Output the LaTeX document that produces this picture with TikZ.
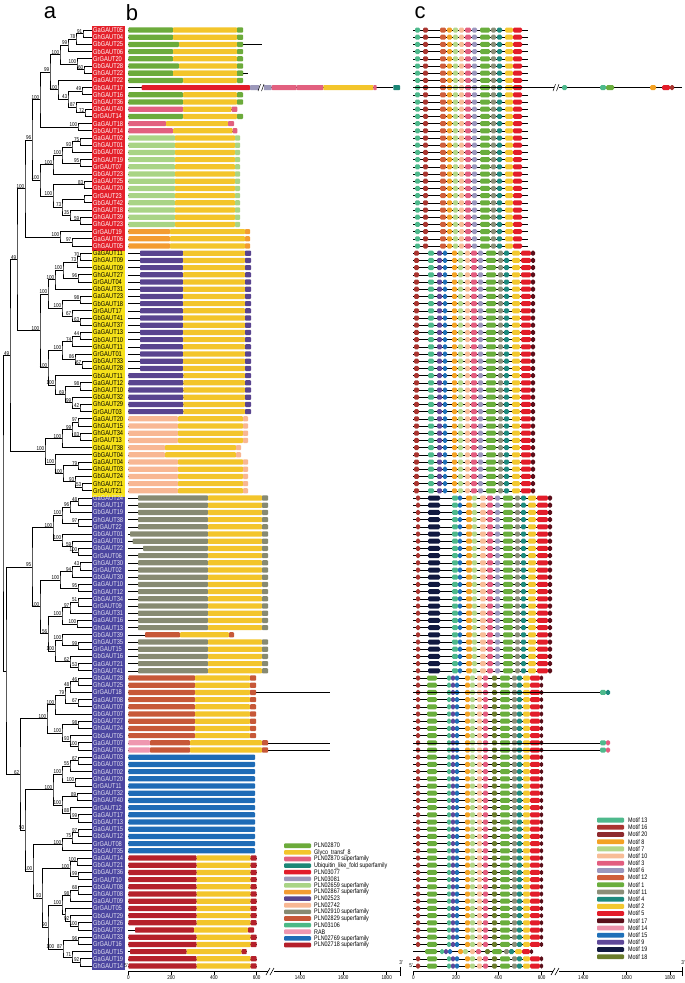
\documentclass[tikz,border=0pt]{standalone}
\usepackage{fontspec}
\setmainfont{Liberation Sans}
\newfontfamily\narrowf[FakeStretch=0.82]{Liberation Sans}
\usetikzlibrary{calc}
% label boxes
\definecolor{cRed}{HTML}{E4202A}
\definecolor{cYel}{HTML}{F6E11A}
\definecolor{cBlu}{HTML}{4B45A0}
% domains (b)
\definecolor{dA}{HTML}{6CAB3B}
\definecolor{dGly}{HTML}{F3C52B}
\definecolor{dPs}{HTML}{E2607F}
\definecolor{dUbq}{HTML}{1C8676}
\definecolor{dR}{HTML}{E21D2A}
\definecolor{dLav}{HTML}{9C98BA}
\definecolor{dLG}{HTML}{A9D485}
\definecolor{dOr}{HTML}{F39C32}
\definecolor{dPur}{HTML}{59448F}
\definecolor{dPea}{HTML}{F8B793}
\definecolor{dGr}{HTML}{878A72}
\definecolor{dBr}{HTML}{C75838}
\definecolor{dMint}{HTML}{4CB985}
\definecolor{dRAB}{HTML}{EF97B0}
\definecolor{dBl}{HTML}{1E6BB6}
\definecolor{dDR}{HTML}{B5202B}
% motifs (c)
\definecolor{m13}{HTML}{4EB98C}
\definecolor{m16}{HTML}{A93530}
\definecolor{m20}{HTML}{8E2A2E}
\definecolor{m8}{HTML}{F4A224}
\definecolor{m7}{HTML}{B3D78A}
\definecolor{m10}{HTML}{F8BD97}
\definecolor{m3}{HTML}{E35D7F}
\definecolor{m6}{HTML}{9B97BE}
\definecolor{m12}{HTML}{CF5E3B}
\definecolor{m1}{HTML}{6AAE3D}
\definecolor{m11}{HTML}{8C8E78}
\definecolor{m4}{HTML}{1E8A7E}
\definecolor{m2}{HTML}{F3C830}
\definecolor{m5}{HTML}{E31D2A}
\definecolor{m17}{HTML}{5B0F1A}
\definecolor{m14}{HTML}{EE91AB}
\definecolor{m15}{HTML}{1F70B8}
\definecolor{m9}{HTML}{5E4899}
\definecolor{m19}{HTML}{111940}
\definecolor{m18}{HTML}{6A7C2C}

\newcommand\RY[1]{(30+(#1-1)*7.2)}
\newcommand\lblf{\narrowf\fontsize{7}{7}\selectfont}
\newcommand\bsf{\narrowf\fontsize{5.6}{5.6}\selectfont}
\newcommand\axf{\narrowf\fontsize{5.6}{5.6}\selectfont}
\newcommand\lgf{\narrowf\fontsize{6.6}{6.6}\selectfont}

% clade: name, x, childA, childB, bootstrap
\newcommand\cl[5]{%
  \path let \p1=(#3), \p2=(#4) in coordinate (#1) at ({#2pt},{0.5*(\y1+\y2)});
  \draw[tr] (#3) -| (#1) |- (#4);
  \node[bs] (bs#1) at (#1) {#5};
}
% panel b row: row, line end, segments
\newcommand\brow[3]{%
  \pgfmathsetmacro\yy{\RY{#1}}
  \draw[ln] (128.3,\yy) -- (#2,\yy);
  \edef\seglist{#3}
  \foreach \a/\b/\c in \seglist {\fill[\c,rounded corners=0.8pt] (\a,{\yy-2.6}) rectangle (\b,{\yy+2.6});}
}
% panel c row
\newcommand\crow[3]{%
  \pgfmathsetmacro\yy{\RY{#1}}
  \draw[ln] (413.3,\yy) -- (#2,\yy);
  \edef\seglist{#3}
  \foreach \a/\b/\c in \seglist {\fill[\c,rounded corners=1.4pt] (\a,{\yy-2.5}) rectangle (\b,{\yy+2.5});}
}
% break mark on a row
\newcommand\rbreak[2]{%
  \pgfmathsetmacro\yy{\RY{#1}}
  \fill[white] ({#2-2.5},{\yy-3.5}) rectangle ({#2+2.5},{\yy+3.5});
  \draw[line width=0.5pt] ({#2-3},{\yy+3.5}) -- ({#2-0.5},{\yy-3.5}) ({#2+0.5},{\yy+3.5}) -- ({#2+3},{\yy-3.5});
}
\def\bA{128.3/173/dA,173/237/dGly,237/243/dA}
\def\bAl{128.3/179/dA,179/237/dGly,237/243/dA}
\def\bAL{128.3/183/dA,183/237/dGly,237/243/dA}
\def\bLG{128.3/175/dLG,175/235/dGly,235/240/dLG}
\def\bOr{128.3/170/dOr,170/245/dGly,245/250/dOr}
\def\bPu{140/183/dPur,183/245/dGly,245/251/dPur}
\def\bPuL{128.3/183.3/dPur,183.3/245/dGly,245/251/dPur}
\def\bPe{128.3/178/dPea,178/243/dGly,243/248/dPea}
\def\bPeS{128.3/165/dPea,165/236/dGly,236/241/dPea}
\def\bGr{138/208/dGr,208/262/dGly,262/268/dGr}
\def\bBr{128.3/195/dBr,195/250/dGly,250/256/dBr}
\def\bBl{128.3/255/dBl}
\def\bDR{128.3/196.7/dDR,196.7/250.7/dGly,250.7/256.7/dDR}

\def\cR{415/420/m13,423/428/m16,440/446/m12,447/452/m8,453/458/m7,459/464/m10,465/471/m3,472/477/m6,480/490/m1,491/496/m11,497/502/m4,505/513/m2,513/522/m5}
\def\cY{414/419/m16,428/434/m13,437/442/m9,443/447/m15,452/457/m8,458/463/m7,465/470/m10,471/477/m3,478/483/m6,486/496/m1,498/503/m11,504/509/m4,512/520/m2,521/531/m5,531/535/m17}
\def\cB{416/420/m16,428/440/m19,452/458/m13,458/462/m15,466/472/m8,472/477/m7,480/486/m10,487/493/m3,495/500/m6,503/513/m1,515/520/m11,521/526/m4,528/536/m2,537/548/m5,548/552/m17}
\def\cG{416/420/m16,427/437/m1,447/451/m13,451/455/m9,455/459/m15,465/470/m8,470/475/m7,477/482/m10,483/488/m3,492/497/m18,500/510/m1,512/517/m11,517/522/m4,523/530/m2,530/540/m5,540/543/m17}
\def\cGs{425/437/m1,440/444/m13,444/448/m9,448/452/m15,458/463/m8,463/468/m7,470/475/m10,476/481/m3,485/490/m18,492/502/m1,504/509/m11,509/514/m4,515/522/m2,522/530/m5,530/533/m17}

\tikzset{
  lab/.style={font=\lblf, inner sep=0pt, anchor=west},
  bs/.style={font=\bsf, inner sep=0.2pt, anchor=south east, xshift=-0.4pt},
  tr/.style={line width=0.75pt, line cap=rect},
  ln/.style={line width=0.6pt},
  axl/.style={line width=0.7pt},
  tick/.style={font=\axf, anchor=north, inner sep=0.5pt},
  lgt/.style={font=\lgf, anchor=west, inner sep=0pt},
  panel/.style={font=\fontsize{22}{22}\selectfont, inner sep=0pt},
}
\begin{document}
\begin{tikzpicture}[x=1pt,y={(0pt,-1pt)}]
\fill[white] (0,0) rectangle (685,983);
\useasboundingbox (0,0) rectangle (685,983);

\node[panel] (pa) at (50,13) {a};
\node[panel] (pb) at (132,13) {b};
\node[panel] (pc) at (420,13) {c};

% label boxes
\fill[cRed] (92,26) rectangle (124.5,250.6);
\fill[cYel] (92,250.6) rectangle (124.5,497.4);
\fill[cBlu] (92,497.4) rectangle (124.5,970);

\foreach \i/\t in {1/GaGAUT05,2/GhGAUT04,3/GbGAUT25,4/GbGAUT06,5/GrGAUT20,6/GbGAUT28,7/GhGAUT22,8/GaGAUT22,9/GbGAUT17,10/GhGAUT16,11/GhGAUT36,12/GbGAUT40,13/GrGAUT14,14/GaGAUT18,15/GbGAUT14,16/GaGAUT02,17/GhGAUT01,18/GbGAUT02,19/GhGAUT19,20/GrGAUT07,21/GbGAUT23,22/GaGAUT25,23/GbGAUT20,24/GrGAUT23,25/GbGAUT42,26/GhGAUT18,27/GhGAUT39,28/GhGAUT23,29/GrGAUT19,30/GaGAUT06,31/GhGAUT05}
  {\node[lab,text=white] (T\i) at (93,{\RY{\i}}) {\t};
   \coordinate (L\i) at (92,{\RY{\i}});}
\foreach \i/\t in {32/GaGAUT11,33/GhGAUT09,34/GbGAUT09,35/GhGAUT27,36/GrGAUT04,37/GbGAUT31,38/GaGAUT23,39/GbGAUT18,40/GrGAUT17,41/GbGAUT41,42/GhGAUT37,43/GaGAUT13,44/GbGAUT10,45/GhGAUT11,46/GrGAUT01,47/GbGAUT33,48/GhGAUT28,49/GbGAUT11,50/GaGAUT12,51/GhGAUT10,52/GbGAUT32,53/GhGAUT29,54/GrGAUT03,55/GaGAUT20,56/GhGAUT15,57/GhGAUT34,58/GrGAUT13,59/GbGAUT38,60/GbGAUT04,61/GaGAUT04,62/GhGAUT03,63/GbGAUT24,64/GhGAUT21,65/GrGAUT21}
  {\node[lab,text=black] (T\i) at (93,{\RY{\i}}) {\t};
   \coordinate (L\i) at (92,{\RY{\i}});}
\foreach \i/\t in {66/GaGAUT24,67/GhGAUT17,68/GbGAUT19,69/GhGAUT38,70/GrGAUT22,71/GbGAUT01,72/GaGAUT01,73/GbGAUT22,74/GrGAUT06,75/GhGAUT30,76/GrGAUT02,77/GbGAUT30,78/GaGAUT10,79/GhGAUT12,80/GbGAUT34,81/GrGAUT09,82/GhGAUT31,83/GaGAUT16,84/GhGAUT13,85/GbGAUT39,86/GhGAUT35,87/GrGAUT15,88/GbGAUT16,89/GaGAUT21,90/GhGAUT41,91/GbGAUT28,92/GhGAUT25,93/GrGAUT18,94/GaGAUT08,95/GhGAUT07,96/GbGAUT07,97/GbGAUT27,98/GhGAUT24,99/GbGAUT05,100/GaGAUT07,101/GhGAUT06,102/GaGAUT03,103/GbGAUT03,104/GhGAUT02,105/GhGAUT20,106/GrGAUT11,107/GhGAUT32,108/GhGAUT40,109/GrGAUT12,110/GaGAUT17,111/GbGAUT13,112/GaGAUT15,113/GbGAUT12,114/GrGAUT08,115/GbGAUT35,116/GaGAUT14,117/GbGAUT21,118/GbGAUT36,119/GrGAUT10,120/GbGAUT08,121/GhGAUT08,122/GaGAUT09,123/GrGAUT05,124/GbGAUT29,125/GbGAUT26,126/GbGAUT37,127/GhGAUT33,128/GrGAUT16,129/GbGAUT15,130/GaGAUT19,131/GhGAUT14}
  {\node[lab,text=white!85!cBlu] (T\i) at (93,{\RY{\i}}) {\t};
   \coordinate (L\i) at (92,{\RY{\i}});}

% ---------- tree ----------
\cl{a1}{83}{L1}{L2}{91}
\cl{a2}{76}{a1}{L3}{78}
\cl{a3}{68}{a2}{L4}{99}
\cl{a4}{84}{L6}{L7}{60}
\cl{a5}{77}{L5}{a4}{100}
\cl{a6}{60}{a3}{a5}{100}
\cl{a7}{82}{L9}{L10}{49}
\cl{a8}{85}{L12}{L13}{72}
\cl{a9}{76}{L11}{a8}{87}
\cl{a10}{68}{a7}{a9}{43}
\cl{a11}{58}{L8}{a10}{100}
\cl{a12}{50}{a6}{a11}{99}
\cl{a13}{78}{L14}{L15}{100}
\cl{a14}{40}{a12}{a13}{100}
\cl{a15}{80}{L16}{L17}{75}
\cl{a16}{72}{a15}{L18}{93}
\cl{a17}{80}{L19}{L20}{95}
\cl{a18}{62}{a16}{a17}{100}
\cl{a19}{53}{a18}{L21}{100}
\cl{a20}{84}{L22}{L23}{83}
\cl{a21}{84}{L24}{L25}{}
\cl{a22}{80}{L27}{L28}{59}
\cl{a23}{70}{L26}{a22}{35}
\cl{a24}{62}{a21}{a23}{73}
\cl{a25}{53}{a20}{a24}{100}
\cl{a26}{40}{a19}{a25}{100}
\cl{a27}{32}{a14}{a26}{96}
\cl{a28}{72}{L30}{L31}{97}
\cl{a29}{60}{L29}{a28}{100}
\cl{a30}{25}{a27}{a29}{100}
\cl{b1}{80}{L32}{L33}{70}
\cl{b2}{77}{b1}{L34}{73}
\cl{b3}{78}{L35}{L36}{96}
\cl{b4}{63}{b2}{b3}{100}
\cl{b5}{55}{b4}{L37}{100}
\cl{b6}{80}{L38}{L39}{98}
\cl{b7}{80}{L41}{L42}{63}
\cl{b8}{72}{L40}{b7}{67}
\cl{b9}{62}{b6}{b8}{100}
\cl{b10}{48}{b5}{b9}{100}
\cl{b11}{80}{L43}{L44}{44}
\cl{b12}{72}{b11}{L45}{74}
\cl{b13}{82}{L47}{L48}{67}
\cl{b14}{75}{L46}{b13}{86}
\cl{b15}{62}{b12}{b14}{100}
\cl{b16}{80}{L50}{L51}{98}
\cl{b17}{80}{L53}{L54}{42}
\cl{b18}{72}{L52}{b17}{99}
\cl{b19}{65}{b16}{b18}{69}
\cl{b20}{55}{L49}{b19}{100}
\cl{b21}{48}{b15}{b20}{100}
\cl{b22}{40}{b10}{b21}{100}
\cl{b23}{78}{L55}{L56}{97}
\cl{b24}{80}{L57}{L58}{83}
\cl{b25}{72}{b23}{b24}{99}
\cl{b26}{62}{b25}{L59}{100}
\cl{b27}{78}{L61}{L62}{79}
\cl{b28}{82}{L64}{L65}{53}
\cl{b29}{75}{L63}{b28}{93}
\cl{b30}{63}{b27}{b29}{100}
\cl{b31}{55}{L60}{b30}{100}
\cl{b32}{45}{b26}{b31}{100}
\cl{r1}{17}{a30}{b22}{49}
\cl{r2}{10}{r1}{b32}{49}
\cl{c1}{78}{L66}{L67}{48}
\cl{c2}{70}{c1}{L68}{96}
\cl{c3}{78}{L69}{L70}{97}
\cl{c4}{62}{c2}{c3}{100}
\cl{c5}{78}{L73}{L74}{100}
\cl{c6}{72}{L72}{c5}{59}
\cl{c7}{62}{L71}{c6}{100}
\cl{c8}{53}{c4}{c7}{100}
\cl{c9}{80}{L75}{L76}{43}
\cl{c10}{72}{c9}{L77}{94}
\cl{c11}{78}{L78}{L79}{95}
\cl{c12}{60}{c10}{c11}{100}
\cl{c13}{78}{L80}{L81}{51}
\cl{c14}{70}{c13}{L82}{97}
\cl{c15}{77}{L83}{L84}{100}
\cl{c16}{62}{c14}{c15}{100}
\cl{c17}{78}{L86}{L87}{99}
\cl{c18}{62}{L85}{c17}{100}
\cl{c19}{78}{L89}{L90}{53}
\cl{c20}{70}{L88}{c19}{62}
\cl{c21}{55}{c18}{c20}{100}
\cl{c22}{48}{c16}{c21}{56}
\cl{c23}{40}{c12}{c22}{100}
\cl{c24}{32}{c8}{c23}{95}
\cl{c25}{78}{L91}{L92}{46}
\cl{c26}{70}{c25}{L93}{48}
\cl{c27}{78}{L94}{L95}{67}
\cl{c28}{65}{c26}{c27}{79}
\cl{c29}{55}{c28}{L96}{100}
\cl{c30}{78}{L97}{L98}{98}
\cl{c31}{78}{L100}{L101}{100}
\cl{c32}{70}{L99}{c31}{93}
\cl{c33}{62}{c30}{c32}{100}
\cl{c34}{47}{c29}{c33}{100}
\cl{c35}{78}{L102}{L103}{67}
\cl{c36}{70}{c35}{L104}{55}
\cl{c37}{75}{L105}{L106}{100}
\cl{c38}{62}{c36}{c37}{100}
\cl{c39}{77}{L107}{L108}{89}
\cl{c40}{78}{L110}{L111}{99}
\cl{c41}{70}{L109}{c40}{88}
\cl{c42}{62}{c39}{c41}{100}
\cl{c43}{53}{c38}{c42}{100}
\cl{c44}{78}{L112}{L113}{97}
\cl{c45}{72}{c44}{L114}{75}
\cl{c46}{62}{c45}{L115}{100}
\cl{c47}{77}{L116}{L117}{100}
\cl{c48}{78}{L118}{L119}{99}
\cl{c49}{70}{c47}{c48}{100}
\cl{c50}{78}{L120}{L121}{68}
\cl{c51}{70}{c50}{L122}{98}
\cl{c52}{78}{L125}{L126}{100}
\cl{c53}{70}{L124}{c52}{92}
\cl{c54}{65}{L123}{c53}{}
\cl{c55}{62}{c51}{c54}{100}
\cl{c56}{78}{L127}{L128}{96}
\cl{c57a}{80}{L130}{L131}{92}
\cl{c57}{72}{L129}{c57a}{71}
\cl{c58}{63}{c56}{c57}{87}
\cl{c58b}{55}{c58}{c58}{100}
\cl{c59}{48}{c55}{c58b}{90}
\cl{c60}{42}{c49}{c59}{93}
\cl{c61}{33}{c46}{c60}{100}
\cl{c62}{25}{c43}{c61}{50}
\cl{c63}{20}{c34}{c62}{62}
\cl{c64}{6}{c24}{c63}{}
\cl{root}{3}{r2}{c64}{}

% ---------- panel b ----------
\foreach \i in {1,2,4,5,7} {\brow{\i}{243}{\bA}}
\brow{3}{262}{\bAl}
\brow{6}{243}{\bAl}
\brow{7}{248}{\bA}
\foreach \i in {8,10,11,13} {\brow{\i}{243}{\bAL}}
\brow{12}{237.3}{128.3/183/dPs,183/231.7/dGly,231.7/237.3/dPs}
\brow{14}{234}{128.3/166/dPs,166/228/dGly,228/234/dPs}
\brow{15}{237.3}{128.3/173/dPs,173/232.7/dGly,232.7/237.3/dPs}
\brow{9}{393.3}{141.7/250/dR,250/271.7/dLav,271.7/296.7/dPs,296.7/323.3/dPs,323.3/373.3/dGly,373.3/376.7/dPs,393.3/400/dUbq}
\rbreak{9}{261}
\foreach \i in {16,...,28} {\brow{\i}{240}{\bLG}}
\foreach \i in {29,30,31} {\brow{\i}{250}{\bOr}}
\foreach \i in {32,...,48} {\brow{\i}{251}{\bPu}}
\foreach \i in {49,...,54} {\brow{\i}{251}{\bPuL}}
\foreach \i in {55,56,57,58,61,62,63,64,65} {\brow{\i}{248}{\bPe}}
\foreach \i in {59,60} {\brow{\i}{241}{\bPeS}}
\foreach \i in {66,...,70,74,75,...,84,86,87,88,89,90} {\brow{\i}{268}{\bGr}}
\brow{71}{268}{130/208/dGr,208/262/dGly,262/268/dGr}
\brow{72}{268}{132.7/208/dGr,208/262/dGly,262/268/dGr}
\brow{73}{268}{143/208/dGr,208/262/dGly,262/268/dGr}
\brow{85}{234}{145/180/dBr,180/229/dGly,229/234/dBr}
\foreach \i in {91,92,94,95,96,97,98,99} {\brow{\i}{256}{\bBr}}
\brow{93}{330}{\bBr}
\brow{100}{330}{128.3/150/dRAB,150/190/dBr,190/262/dGly,262/268/dBr}
\brow{101}{330}{128.3/150/dRAB,150/190/dBr,190/262/dGly,262/268/dBr}
\foreach \i in {102,...,115} {\brow{\i}{255}{\bBl}}
\foreach \i in {116,...,125,127,128,130,131} {\brow{\i}{256.7}{\bDR}}
\brow{126}{254}{135/194/dDR,194/248/dGly,248/254/dDR}
\brow{129}{246.7}{130/186.7/dDR,186.7/241.7/dGly,241.7/246.7/dDR}

% ---------- panel c ----------
\foreach \i in {1,...,8,10,11,...,31} {\crow{\i}{528}{\cR}}
\crow{9}{553}{415/420/m13,423/428/m16,440/446/m12,447/452/m8,453/458/m7,459/464/m10,465/471/m3,472/477/m6,480/490/m1,491/496/m11,497/502/m4,505/513/m2,513/522/m5}
\crow{9}{682}{562/567/m13,600/606/m13,606/614/m1,650/656/m8,662/670/m5,670/674/m16}
\rbreak{9}{556}
\foreach \i in {32,...,65} {\crow{\i}{535}{\cY}}
\foreach \i in {66,...,90} {\crow{\i}{552}{\cB}}
\foreach \i in {91,92,94,95,...,99,102,103,...,128,130,131} {\crow{\i}{543}{\cG}}
\crow{129}{533}{\cGs}
\crow{93}{610}{\cG}
\crow{93}{610}{600/606/m13,606/610/m4}
\crow{100}{610}{\cG}
\crow{100}{610}{600/606/m13,606/610/m3}
\crow{101}{610}{\cG}
\crow{101}{610}{600/606/m13,606/610/m3}

% ---------- legends ----------
\foreach \k/\c/\t in {0/dA/PLN02870,1/dGly/Glyco\_transf\_8,2/dPs/PLN02870 superfamily,3/dUbq/Ubiquitin\_like\_fold superfamily,4/dR/PLN03077,5/dLav/PLN03081,6/dLG/PLN02659 superfamily,7/dOr/PLN02867 superfamily,8/dPur/PLN02523,9/dPea/PLN02742,10/dGr/PLN02910 superfamily,11/dBr/PLN02829 superfamily,12/dMint/PLN03106,13/dRAB/RAB,14/dBl/PLN02769 superfamily,15/dDR/PLN02718 superfamily}
  {\fill[\c,rounded corners=1pt] (284,{845.7+\k*6.62-2.3}) rectangle (311,{845.7+\k*6.62+2.3});
   \node[lgt] (lb\k) at (314,{845.7+\k*6.62}) {\t};}
\foreach \k/\c/\t in {0/m13/13,1/m16/16,2/m20/20,3/m8/8,4/m7/7,5/m10/10,6/m3/3,7/m6/6,8/m12/12,9/m1/1,10/m11/11,11/m4/4,12/m2/2,13/m5/5,14/m17/17,15/m14/14,16/m15/15,17/m9/9,18/m19/19,19/m18/18}
  {\fill[\c,rounded corners=1pt] (597,{820.1+\k*7.19-2.4}) rectangle (624,{820.1+\k*7.19+2.4});
   \node[lgt] (lc\k) at (628,{820.1+\k*7.19}) {Motif \t};}

% ---------- axes ----------
\draw[axl] (128.3,971.7) -- (268,971.7);
\draw[axl] (274,971.7) -- (400,971.7);
\draw[axl] (400,967) -- (400,976);
\draw[line width=0.6pt] (266,975) -- (270,968) (270,975) -- (274,968);
\foreach \x/\t in {128.3/0,171.1/200,213.9/400,256.7/600,300/1400,343.3/1600,386.7/1800}
  {\draw[line width=0.5pt] (\x,971.7) -- (\x,974.5); \node[tick] (tb\t) at (\x,975) {\t};}
\node[font=\axf] (b5) at (126,966) {5'};
\node[font=\axf] (b3) at (401,963) {3'};
\draw[axl] (413.3,971.7) -- (553,971.7);
\draw[axl] (559,971.7) -- (682,971.7);
\draw[axl] (682,967) -- (682,976);
\draw[line width=0.6pt] (551,975) -- (555,968) (555,975) -- (559,968);
\foreach \x/\t in {413.3/0,456/200,498.3/400,541.7/600,583.3/1400,626.7/1600,670/1800}
  {\draw[line width=0.5pt] (\x,971.7) -- (\x,974.5); \node[tick] (tc\t) at (\x,975) {\t};}
\node[font=\axf] (c5) at (411,966) {5'};
\node[font=\axf] (c3) at (683,963) {3'};
\end{tikzpicture}
\end{document}
